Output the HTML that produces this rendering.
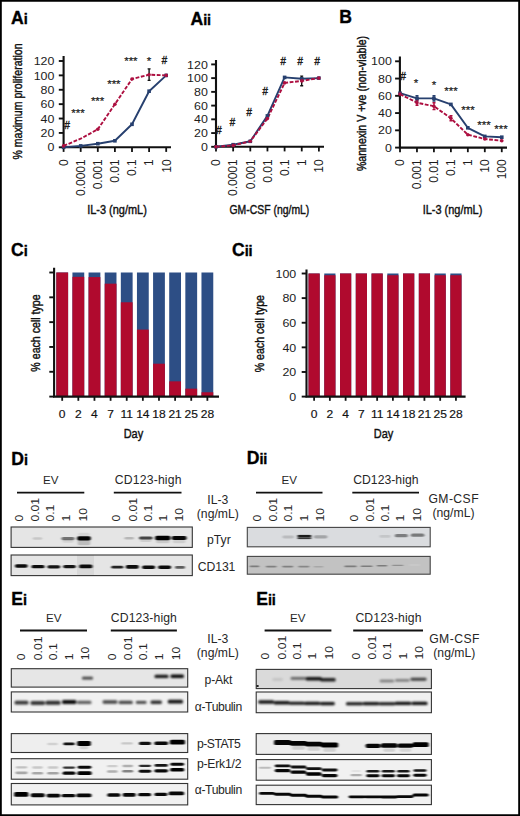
<!DOCTYPE html>
<html><head><meta charset="utf-8"><title>Figure</title>
<style>
html,body{margin:0;padding:0;background:#fff;}
body{width:520px;height:816px;overflow:hidden;font-family:"Liberation Sans",sans-serif;}
svg{display:block;font-family:"Liberation Sans",sans-serif;}
</style></head><body>
<svg width="520" height="816" viewBox="0 0 520 816">
<defs>
<filter id="b1" x="-20%" y="-80%" width="140%" height="260%"><feGaussianBlur stdDeviation="0.8 0.65"/></filter>
<filter id="b2" x="-20%" y="-80%" width="140%" height="260%"><feGaussianBlur stdDeviation="1.3 0.85"/></filter>
<linearGradient id="lg" x1="0" x2="1" y1="0" y2="0"><stop offset="0" stop-color="#c8c8c8"/><stop offset="1" stop-color="#e2e2e2"/></linearGradient>
</defs>
<rect x="0" y="0" width="520" height="816" fill="#fff"/>
<path d="M0 0H520V816H0Z M1.8 1.7V814.2H518.2V1.7Z" fill="#000" fill-rule="evenodd"/>

<text x="11" y="23.5" font-size="17.6" font-weight="bold" fill="#000" stroke="#000" stroke-width="0.35">A<tspan font-size="14.5" letter-spacing="-0.3">i</tspan></text>
<path d="M63.6 56 V147.3 H171" fill="none" stroke="#111" stroke-width="2.1"/>
<path d="M58.800000000000004 147.30 H63.6" stroke="#111" stroke-width="1.9"/>
<text transform="translate(54.4 151.45) scale(1.07 1)" font-size="11.6" text-anchor="end" font-weight="normal" fill="#1c1c1c" >0</text>
<path d="M58.800000000000004 132.92 H63.6" stroke="#111" stroke-width="1.9"/>
<text transform="translate(54.4 137.07) scale(1.07 1)" font-size="11.6" text-anchor="end" font-weight="normal" fill="#1c1c1c" >20</text>
<path d="M58.800000000000004 118.53 H63.6" stroke="#111" stroke-width="1.9"/>
<text transform="translate(54.4 122.68) scale(1.07 1)" font-size="11.6" text-anchor="end" font-weight="normal" fill="#1c1c1c" >40</text>
<path d="M58.800000000000004 104.15 H63.6" stroke="#111" stroke-width="1.9"/>
<text transform="translate(54.4 108.3) scale(1.07 1)" font-size="11.6" text-anchor="end" font-weight="normal" fill="#1c1c1c" >60</text>
<path d="M58.800000000000004 89.77 H63.6" stroke="#111" stroke-width="1.9"/>
<text transform="translate(54.4 93.92) scale(1.07 1)" font-size="11.6" text-anchor="end" font-weight="normal" fill="#1c1c1c" >80</text>
<path d="M58.800000000000004 75.38 H63.6" stroke="#111" stroke-width="1.9"/>
<text transform="translate(54.4 79.53) scale(1.07 1)" font-size="11.6" text-anchor="end" font-weight="normal" fill="#1c1c1c" >100</text>
<path d="M58.800000000000004 61.00 H63.6" stroke="#111" stroke-width="1.9"/>
<text transform="translate(54.4 65.15) scale(1.07 1)" font-size="11.6" text-anchor="end" font-weight="normal" fill="#1c1c1c" >120</text>
<path d="M63.60 147.3 V151.9" stroke="#111" stroke-width="1.8"/>
<path d="M80.70 147.3 V151.9" stroke="#111" stroke-width="1.8"/>
<path d="M97.80 147.3 V151.9" stroke="#111" stroke-width="1.8"/>
<path d="M114.90 147.3 V151.9" stroke="#111" stroke-width="1.8"/>
<path d="M132.00 147.3 V151.9" stroke="#111" stroke-width="1.8"/>
<path d="M149.10 147.3 V151.9" stroke="#111" stroke-width="1.8"/>
<path d="M166.20 147.3 V151.9" stroke="#111" stroke-width="1.8"/>
<text transform="translate(67.9 159.3) rotate(-90)" font-size="12" text-anchor="end" font-weight="normal" fill="#1c1c1c" >0</text>
<text transform="translate(85.0 159.3) rotate(-90)" font-size="12" text-anchor="end" font-weight="normal" fill="#1c1c1c" >0.0001</text>
<text transform="translate(102.1 159.3) rotate(-90)" font-size="12" text-anchor="end" font-weight="normal" fill="#1c1c1c" >0.001</text>
<text transform="translate(119.2 159.3) rotate(-90)" font-size="12" text-anchor="end" font-weight="normal" fill="#1c1c1c" >0.01</text>
<text transform="translate(136.3 159.3) rotate(-90)" font-size="12" text-anchor="end" font-weight="normal" fill="#1c1c1c" >0.1</text>
<text transform="translate(153.4 159.3) rotate(-90)" font-size="12" text-anchor="end" font-weight="normal" fill="#1c1c1c" >1</text>
<text transform="translate(170.5 159.3) rotate(-90)" font-size="12" text-anchor="end" font-weight="normal" fill="#1c1c1c" >10</text>
<polyline points="63.6,147.3 80.7,145.9 97.8,143.7 114.9,140.8 132.0,124.3 149.1,91.2 166.2,75.4" fill="none" stroke="#27406f" stroke-width="1.9" stroke-linejoin="round"/>
<polyline points="63.6,145.9 80.7,138.7 97.8,129.3 114.9,104.2 132.0,79.0 149.1,74.7 166.2,75.4" fill="none" stroke="#ad0f40" stroke-width="1.9" stroke-dasharray="3.8 1.6" stroke-linejoin="round"/>
<path d="M149.1 80.4 V68.9 M147.6 68.9 h3 M147.6 80.4 h3" stroke="#111" stroke-width="1.4"/>
<rect x="61.8" y="145.5" width="3.6" height="3.6" fill="#27406f"/>
<rect x="78.9" y="144.1" width="3.6" height="3.6" fill="#27406f"/>
<rect x="96.0" y="141.9" width="3.6" height="3.6" fill="#27406f"/>
<rect x="113.1" y="139.0" width="3.6" height="3.6" fill="#27406f"/>
<rect x="130.2" y="122.5" width="3.6" height="3.6" fill="#27406f"/>
<rect x="147.3" y="89.4" width="3.6" height="3.6" fill="#27406f"/>
<rect x="164.4" y="73.6" width="3.6" height="3.6" fill="#27406f"/>
<circle cx="63.6" cy="145.9" r="1.8" fill="#ad0f40"/>
<circle cx="97.8" cy="129.3" r="1.8" fill="#ad0f40"/>
<circle cx="114.9" cy="104.2" r="1.8" fill="#ad0f40"/>
<circle cx="132.0" cy="79.0" r="1.8" fill="#ad0f40"/>
<circle cx="149.1" cy="74.7" r="1.8" fill="#ad0f40"/>
<circle cx="166.2" cy="75.4" r="1.8" fill="#ad0f40"/>
<text x="67" y="128.6" font-size="10" text-anchor="middle" font-weight="normal" fill="#1a1a1a" font-style="italic" stroke="#1a1a1a" stroke-width="0.35">#</text>
<text x="78" y="116.8" font-size="11.5" text-anchor="middle" font-weight="normal" fill="#1a1a1a" stroke="#1a1a1a" stroke-width="0.2">***</text>
<text x="97.6" y="105.1" font-size="11.5" text-anchor="middle" font-weight="normal" fill="#1a1a1a" stroke="#1a1a1a" stroke-width="0.2">***</text>
<text x="113.9" y="87.8" font-size="11.5" text-anchor="middle" font-weight="normal" fill="#1a1a1a" stroke="#1a1a1a" stroke-width="0.2">***</text>
<text x="130.9" y="65.3" font-size="11.5" text-anchor="middle" font-weight="normal" fill="#1a1a1a" stroke="#1a1a1a" stroke-width="0.2">***</text>
<text x="148.9" y="65.3" font-size="11.5" text-anchor="middle" font-weight="normal" fill="#1a1a1a" stroke="#1a1a1a" stroke-width="0.2">*</text>
<text x="164.2" y="63.9" font-size="10" text-anchor="middle" font-weight="normal" fill="#1a1a1a" font-style="italic" stroke="#1a1a1a" stroke-width="0.35">#</text>
<text transform="translate(21.9 101.5) rotate(-90) scale(0.845 1)" font-size="12.5" text-anchor="middle" font-weight="normal" fill="#111" stroke="#111" stroke-width="0.42">% maximum proliferation</text>
<text transform="translate(117 214) scale(0.85 1)" font-size="12.9" text-anchor="middle" font-weight="normal" fill="#111" stroke="#111" stroke-width="0.42">IL-3 (ng/mL)</text>
<text x="190.6" y="25.2" font-size="17.6" font-weight="bold" fill="#000" stroke="#000" stroke-width="0.35">A<tspan font-size="14.5" letter-spacing="-0.3">ii</tspan></text>
<path d="M216 60 V146.8 H324" fill="none" stroke="#111" stroke-width="2.1"/>
<path d="M211.2 146.80 H216" stroke="#111" stroke-width="1.9"/>
<text transform="translate(207.8 150.95) scale(1.07 1)" font-size="11.6" text-anchor="end" font-weight="normal" fill="#1c1c1c" >0</text>
<path d="M211.2 133.07 H216" stroke="#111" stroke-width="1.9"/>
<text transform="translate(207.8 137.22) scale(1.07 1)" font-size="11.6" text-anchor="end" font-weight="normal" fill="#1c1c1c" >20</text>
<path d="M211.2 119.33 H216" stroke="#111" stroke-width="1.9"/>
<text transform="translate(207.8 123.48) scale(1.07 1)" font-size="11.6" text-anchor="end" font-weight="normal" fill="#1c1c1c" >40</text>
<path d="M211.2 105.60 H216" stroke="#111" stroke-width="1.9"/>
<text transform="translate(207.8 109.75) scale(1.07 1)" font-size="11.6" text-anchor="end" font-weight="normal" fill="#1c1c1c" >60</text>
<path d="M211.2 91.87 H216" stroke="#111" stroke-width="1.9"/>
<text transform="translate(207.8 96.02) scale(1.07 1)" font-size="11.6" text-anchor="end" font-weight="normal" fill="#1c1c1c" >80</text>
<path d="M211.2 78.13 H216" stroke="#111" stroke-width="1.9"/>
<text transform="translate(207.8 82.28) scale(1.07 1)" font-size="11.6" text-anchor="end" font-weight="normal" fill="#1c1c1c" >100</text>
<path d="M211.2 64.40 H216" stroke="#111" stroke-width="1.9"/>
<text transform="translate(207.8 68.55) scale(1.07 1)" font-size="11.6" text-anchor="end" font-weight="normal" fill="#1c1c1c" >120</text>
<path d="M216.00 146.8 V151.4" stroke="#111" stroke-width="1.8"/>
<path d="M233.15 146.8 V151.4" stroke="#111" stroke-width="1.8"/>
<path d="M250.30 146.8 V151.4" stroke="#111" stroke-width="1.8"/>
<path d="M267.45 146.8 V151.4" stroke="#111" stroke-width="1.8"/>
<path d="M284.60 146.8 V151.4" stroke="#111" stroke-width="1.8"/>
<path d="M301.75 146.8 V151.4" stroke="#111" stroke-width="1.8"/>
<path d="M318.90 146.8 V151.4" stroke="#111" stroke-width="1.8"/>
<text transform="translate(220.3 159.3) rotate(-90)" font-size="12" text-anchor="end" font-weight="normal" fill="#1c1c1c" >0</text>
<text transform="translate(237.45 159.3) rotate(-90)" font-size="12" text-anchor="end" font-weight="normal" fill="#1c1c1c" >0.0001</text>
<text transform="translate(254.6 159.3) rotate(-90)" font-size="12" text-anchor="end" font-weight="normal" fill="#1c1c1c" >0.001</text>
<text transform="translate(271.75 159.3) rotate(-90)" font-size="12" text-anchor="end" font-weight="normal" fill="#1c1c1c" >0.01</text>
<text transform="translate(288.9 159.3) rotate(-90)" font-size="12" text-anchor="end" font-weight="normal" fill="#1c1c1c" >0.1</text>
<text transform="translate(306.05 159.3) rotate(-90)" font-size="12" text-anchor="end" font-weight="normal" fill="#1c1c1c" >1</text>
<text transform="translate(323.2 159.3) rotate(-90)" font-size="12" text-anchor="end" font-weight="normal" fill="#1c1c1c" >10</text>
<polyline points="216.0,146.8 233.2,144.7 250.3,141.3 267.4,115.9 284.6,77.4 301.8,78.8 318.9,78.1" fill="none" stroke="#27406f" stroke-width="1.9" stroke-linejoin="round"/>
<polyline points="216.0,146.8 233.2,145.4 250.3,141.3 267.4,118.6 284.6,82.9 301.8,80.9 318.9,78.1" fill="none" stroke="#ad0f40" stroke-width="1.9" stroke-dasharray="3.8 1.6" stroke-linejoin="round"/>
<path d="M301.7 85.7 V76.1 M300.2 76.1 h3 M300.2 85.7 h3" stroke="#111" stroke-width="1.4"/>
<rect x="214.2" y="145.0" width="3.6" height="3.6" fill="#27406f"/>
<rect x="231.3" y="142.9" width="3.6" height="3.6" fill="#27406f"/>
<rect x="248.5" y="139.5" width="3.6" height="3.6" fill="#27406f"/>
<rect x="265.6" y="114.1" width="3.6" height="3.6" fill="#27406f"/>
<rect x="282.8" y="75.6" width="3.6" height="3.6" fill="#27406f"/>
<rect x="299.9" y="77.0" width="3.6" height="3.6" fill="#27406f"/>
<rect x="317.1" y="76.3" width="3.6" height="3.6" fill="#27406f"/>
<circle cx="216.0" cy="146.8" r="1.8" fill="#ad0f40"/>
<circle cx="233.2" cy="145.4" r="1.8" fill="#ad0f40"/>
<circle cx="250.3" cy="141.3" r="1.8" fill="#ad0f40"/>
<circle cx="267.4" cy="118.6" r="1.8" fill="#ad0f40"/>
<circle cx="284.6" cy="82.9" r="1.8" fill="#ad0f40"/>
<circle cx="301.8" cy="80.9" r="1.8" fill="#ad0f40"/>
<circle cx="318.9" cy="78.1" r="1.8" fill="#ad0f40"/>
<text x="218.7" y="133.8" font-size="10" text-anchor="middle" font-weight="normal" fill="#1a1a1a" font-style="italic" stroke="#1a1a1a" stroke-width="0.35">#</text>
<text x="232.2" y="126.0" font-size="10" text-anchor="middle" font-weight="normal" fill="#1a1a1a" font-style="italic" stroke="#1a1a1a" stroke-width="0.35">#</text>
<text x="249" y="115.6" font-size="10" text-anchor="middle" font-weight="normal" fill="#1a1a1a" font-style="italic" stroke="#1a1a1a" stroke-width="0.35">#</text>
<text x="265" y="94.6" font-size="10" text-anchor="middle" font-weight="normal" fill="#1a1a1a" font-style="italic" stroke="#1a1a1a" stroke-width="0.35">#</text>
<text x="283" y="64.6" font-size="10" text-anchor="middle" font-weight="normal" fill="#1a1a1a" font-style="italic" stroke="#1a1a1a" stroke-width="0.35">#</text>
<text x="300" y="64.6" font-size="10" text-anchor="middle" font-weight="normal" fill="#1a1a1a" font-style="italic" stroke="#1a1a1a" stroke-width="0.35">#</text>
<text x="317" y="64.6" font-size="10" text-anchor="middle" font-weight="normal" fill="#1a1a1a" font-style="italic" stroke="#1a1a1a" stroke-width="0.35">#</text>
<text transform="translate(269.4 214) scale(0.808 1)" font-size="12.9" text-anchor="middle" font-weight="normal" fill="#111" stroke="#111" stroke-width="0.42">GM-CSF (ng/mL)</text>
<text x="339.3" y="23.3" font-size="17.6" font-weight="bold" fill="#000" stroke="#000" stroke-width="0.35">B<tspan font-size="14.5" letter-spacing="-0.3"></tspan></text>
<path d="M399.9 56.5 V147.6 H507" fill="none" stroke="#111" stroke-width="2.1"/>
<path d="M395.09999999999997 147.60 H399.9" stroke="#111" stroke-width="1.9"/>
<text transform="translate(391.8 151.75) scale(1.07 1)" font-size="11.6" text-anchor="end" font-weight="normal" fill="#1c1c1c" >0</text>
<path d="M395.09999999999997 130.34 H399.9" stroke="#111" stroke-width="1.9"/>
<text transform="translate(391.8 134.49) scale(1.07 1)" font-size="11.6" text-anchor="end" font-weight="normal" fill="#1c1c1c" >20</text>
<path d="M395.09999999999997 113.08 H399.9" stroke="#111" stroke-width="1.9"/>
<text transform="translate(391.8 117.23) scale(1.07 1)" font-size="11.6" text-anchor="end" font-weight="normal" fill="#1c1c1c" >40</text>
<path d="M395.09999999999997 95.82 H399.9" stroke="#111" stroke-width="1.9"/>
<text transform="translate(391.8 99.97) scale(1.07 1)" font-size="11.6" text-anchor="end" font-weight="normal" fill="#1c1c1c" >60</text>
<path d="M395.09999999999997 78.56 H399.9" stroke="#111" stroke-width="1.9"/>
<text transform="translate(391.8 82.71) scale(1.07 1)" font-size="11.6" text-anchor="end" font-weight="normal" fill="#1c1c1c" >80</text>
<path d="M395.09999999999997 61.30 H399.9" stroke="#111" stroke-width="1.9"/>
<text transform="translate(391.8 65.45) scale(1.07 1)" font-size="11.6" text-anchor="end" font-weight="normal" fill="#1c1c1c" >100</text>
<path d="M400.00 147.6 V152.2" stroke="#111" stroke-width="1.8"/>
<path d="M416.96 147.6 V152.2" stroke="#111" stroke-width="1.8"/>
<path d="M433.92 147.6 V152.2" stroke="#111" stroke-width="1.8"/>
<path d="M450.88 147.6 V152.2" stroke="#111" stroke-width="1.8"/>
<path d="M467.84 147.6 V152.2" stroke="#111" stroke-width="1.8"/>
<path d="M484.80 147.6 V152.2" stroke="#111" stroke-width="1.8"/>
<path d="M501.76 147.6 V152.2" stroke="#111" stroke-width="1.8"/>
<text transform="translate(404.3 159.3) rotate(-90)" font-size="12" text-anchor="end" font-weight="normal" fill="#1c1c1c" >0</text>
<text transform="translate(421.26 159.3) rotate(-90)" font-size="12" text-anchor="end" font-weight="normal" fill="#1c1c1c" >0.001</text>
<text transform="translate(438.22 159.3) rotate(-90)" font-size="12" text-anchor="end" font-weight="normal" fill="#1c1c1c" >0.01</text>
<text transform="translate(455.18 159.3) rotate(-90)" font-size="12" text-anchor="end" font-weight="normal" fill="#1c1c1c" >0.1</text>
<text transform="translate(472.14 159.3) rotate(-90)" font-size="12" text-anchor="end" font-weight="normal" fill="#1c1c1c" >1</text>
<text transform="translate(489.1 159.3) rotate(-90)" font-size="12" text-anchor="end" font-weight="normal" fill="#1c1c1c" >10</text>
<text transform="translate(506.06 159.3) rotate(-90)" font-size="12" text-anchor="end" font-weight="normal" fill="#1c1c1c" >100</text>
<polyline points="400.0,93.2 417.0,98.4 433.9,98.4 450.9,104.4 467.8,127.8 484.8,136.4 501.8,137.2" fill="none" stroke="#27406f" stroke-width="1.9" stroke-linejoin="round"/>
<polyline points="400.0,94.1 417.0,102.7 433.9,106.2 450.9,118.3 467.8,134.7 484.8,139.0 501.8,140.7" fill="none" stroke="#ad0f40" stroke-width="1.9" stroke-dasharray="3.8 1.6" stroke-linejoin="round"/>
<path d="M417 101.0 V95.8 M415.5 95.8 h3 M415.5 101.0 h3" stroke="#27406f" stroke-width="1.4"/>
<path d="M434 101.0 V95.8 M432.5 95.8 h3 M432.5 101.0 h3" stroke="#27406f" stroke-width="1.4"/>
<path d="M417 105.3 V100.1 M415.5 100.1 h3 M415.5 105.3 h3" stroke="#ad0f40" stroke-width="1.4"/>
<path d="M434 109.6 V102.7 M432.5 102.7 h3 M432.5 109.6 h3" stroke="#ad0f40" stroke-width="1.4"/>
<path d="M451 120.8 V115.7 M449.5 115.7 h3 M449.5 120.8 h3" stroke="#ad0f40" stroke-width="1.4"/>
<rect x="398.2" y="91.4" width="3.6" height="3.6" fill="#27406f"/>
<rect x="415.2" y="96.6" width="3.6" height="3.6" fill="#27406f"/>
<rect x="432.1" y="96.6" width="3.6" height="3.6" fill="#27406f"/>
<rect x="449.1" y="102.6" width="3.6" height="3.6" fill="#27406f"/>
<rect x="466.0" y="126.0" width="3.6" height="3.6" fill="#27406f"/>
<rect x="483.0" y="134.6" width="3.6" height="3.6" fill="#27406f"/>
<rect x="500.0" y="135.4" width="3.6" height="3.6" fill="#27406f"/>
<circle cx="400.0" cy="94.1" r="1.8" fill="#ad0f40"/>
<circle cx="417.0" cy="102.7" r="1.8" fill="#ad0f40"/>
<circle cx="433.9" cy="106.2" r="1.8" fill="#ad0f40"/>
<circle cx="450.9" cy="118.3" r="1.8" fill="#ad0f40"/>
<circle cx="467.8" cy="134.7" r="1.8" fill="#ad0f40"/>
<circle cx="484.8" cy="139.0" r="1.8" fill="#ad0f40"/>
<circle cx="501.8" cy="140.7" r="1.8" fill="#ad0f40"/>
<text x="403" y="79.6" font-size="10" text-anchor="middle" font-weight="normal" fill="#1a1a1a" font-style="italic" stroke="#1a1a1a" stroke-width="0.35">#</text>
<text x="416" y="87.3" font-size="11.5" text-anchor="middle" font-weight="normal" fill="#1a1a1a" stroke="#1a1a1a" stroke-width="0.2">*</text>
<text x="434" y="89.3" font-size="11.5" text-anchor="middle" font-weight="normal" fill="#1a1a1a" stroke="#1a1a1a" stroke-width="0.2">*</text>
<text x="451" y="94.8" font-size="11.5" text-anchor="middle" font-weight="normal" fill="#1a1a1a" stroke="#1a1a1a" stroke-width="0.2">***</text>
<text x="468" y="114.3" font-size="11.5" text-anchor="middle" font-weight="normal" fill="#1a1a1a" stroke="#1a1a1a" stroke-width="0.2">***</text>
<text x="484" y="129.3" font-size="11.5" text-anchor="middle" font-weight="normal" fill="#1a1a1a" stroke="#1a1a1a" stroke-width="0.2">***</text>
<text x="501" y="133.3" font-size="11.5" text-anchor="middle" font-weight="normal" fill="#1a1a1a" stroke="#1a1a1a" stroke-width="0.2">***</text>
<text transform="translate(365.6 103.5) rotate(-90) scale(0.845 1)" font-size="12.5" text-anchor="middle" font-weight="normal" fill="#111" stroke="#111" stroke-width="0.42">%annexin V +ve (non-viable)</text>
<text transform="translate(452.5 214) scale(0.85 1)" font-size="12.9" text-anchor="middle" font-weight="normal" fill="#111" stroke="#111" stroke-width="0.42">IL-3 (ng/mL)</text>
<text x="11" y="255.5" font-size="17.6" font-weight="bold" fill="#000" stroke="#000" stroke-width="0.35">C<tspan font-size="14.5" letter-spacing="-0.3">i</tspan></text>
<rect x="56.30" y="272.5" width="11.8" height="124.10" fill="#2d4e85"/>
<rect x="56.30" y="272.50" width="11.8" height="124.10" fill="#b00a2e"/>
<path d="M62.20 396.6 v4.2" stroke="#111" stroke-width="1.8"/>
<text transform="translate(62.2 417.5) scale(1.16 1)" font-size="10.4" text-anchor="middle" font-weight="normal" fill="#111" stroke="#111" stroke-width="0.15">0</text>
<rect x="72.43" y="272.5" width="11.8" height="124.10" fill="#2d4e85"/>
<rect x="72.43" y="276.84" width="11.8" height="119.76" fill="#b00a2e"/>
<path d="M78.33 396.6 v4.2" stroke="#111" stroke-width="1.8"/>
<text transform="translate(78.33 417.5) scale(1.16 1)" font-size="10.4" text-anchor="middle" font-weight="normal" fill="#111" stroke="#111" stroke-width="0.15">2</text>
<rect x="88.56" y="272.5" width="11.8" height="124.10" fill="#2d4e85"/>
<rect x="88.56" y="277.09" width="11.8" height="119.51" fill="#b00a2e"/>
<path d="M94.46 396.6 v4.2" stroke="#111" stroke-width="1.8"/>
<text transform="translate(94.46 417.5) scale(1.16 1)" font-size="10.4" text-anchor="middle" font-weight="normal" fill="#111" stroke="#111" stroke-width="0.15">4</text>
<rect x="104.69" y="272.5" width="11.8" height="124.10" fill="#2d4e85"/>
<rect x="104.69" y="283.67" width="11.8" height="112.93" fill="#b00a2e"/>
<path d="M110.59 396.6 v4.2" stroke="#111" stroke-width="1.8"/>
<text transform="translate(110.59 417.5) scale(1.16 1)" font-size="10.4" text-anchor="middle" font-weight="normal" fill="#111" stroke="#111" stroke-width="0.15">7</text>
<rect x="120.82" y="272.5" width="11.8" height="124.10" fill="#2d4e85"/>
<rect x="120.82" y="302.28" width="11.8" height="94.32" fill="#b00a2e"/>
<path d="M126.72 396.6 v4.2" stroke="#111" stroke-width="1.8"/>
<text transform="translate(126.72 417.5) scale(1.16 1)" font-size="10.4" text-anchor="middle" font-weight="normal" fill="#111" stroke="#111" stroke-width="0.15">11</text>
<rect x="136.95" y="272.5" width="11.8" height="124.10" fill="#2d4e85"/>
<rect x="136.95" y="329.59" width="11.8" height="67.01" fill="#b00a2e"/>
<path d="M142.85 396.6 v4.2" stroke="#111" stroke-width="1.8"/>
<text transform="translate(142.85 417.5) scale(1.16 1)" font-size="10.4" text-anchor="middle" font-weight="normal" fill="#111" stroke="#111" stroke-width="0.15">14</text>
<rect x="153.08" y="272.5" width="11.8" height="124.10" fill="#2d4e85"/>
<rect x="153.08" y="363.71" width="11.8" height="32.89" fill="#b00a2e"/>
<path d="M158.98 396.6 v4.2" stroke="#111" stroke-width="1.8"/>
<text transform="translate(158.98 417.5) scale(1.16 1)" font-size="10.4" text-anchor="middle" font-weight="normal" fill="#111" stroke="#111" stroke-width="0.15">18</text>
<rect x="169.21" y="272.5" width="11.8" height="124.10" fill="#2d4e85"/>
<rect x="169.21" y="381.34" width="11.8" height="15.26" fill="#b00a2e"/>
<path d="M175.11 396.6 v4.2" stroke="#111" stroke-width="1.8"/>
<text transform="translate(175.11 417.5) scale(1.16 1)" font-size="10.4" text-anchor="middle" font-weight="normal" fill="#111" stroke="#111" stroke-width="0.15">21</text>
<rect x="185.34" y="272.5" width="11.8" height="124.10" fill="#2d4e85"/>
<rect x="185.34" y="388.66" width="11.8" height="7.94" fill="#b00a2e"/>
<path d="M191.24 396.6 v4.2" stroke="#111" stroke-width="1.8"/>
<text transform="translate(191.24 417.5) scale(1.16 1)" font-size="10.4" text-anchor="middle" font-weight="normal" fill="#111" stroke="#111" stroke-width="0.15">25</text>
<rect x="201.47" y="272.5" width="11.8" height="124.10" fill="#2d4e85"/>
<rect x="201.47" y="392.26" width="11.8" height="4.34" fill="#b00a2e"/>
<path d="M207.37 396.6 v4.2" stroke="#111" stroke-width="1.8"/>
<text transform="translate(207.37 417.5) scale(1.16 1)" font-size="10.4" text-anchor="middle" font-weight="normal" fill="#111" stroke="#111" stroke-width="0.15">28</text>
<path d="M54.1 267.8 V396.6 H219" fill="none" stroke="#111" stroke-width="2.1"/>
<path d="M49.300000000000004 396.60 H54.1" stroke="#111" stroke-width="1.9"/>
<path d="M49.300000000000004 371.78 H54.1" stroke="#111" stroke-width="1.9"/>
<path d="M49.300000000000004 346.96 H54.1" stroke="#111" stroke-width="1.9"/>
<path d="M49.300000000000004 322.14 H54.1" stroke="#111" stroke-width="1.9"/>
<path d="M49.300000000000004 297.32 H54.1" stroke="#111" stroke-width="1.9"/>
<path d="M49.300000000000004 272.50 H54.1" stroke="#111" stroke-width="1.9"/>
<text transform="translate(39.6 333) rotate(-90) scale(0.85 1)" font-size="12.5" text-anchor="middle" font-weight="normal" fill="#111" stroke="#111" stroke-width="0.42">% each cell type</text>
<text transform="translate(133.4 437.5) scale(0.85 1)" font-size="12.9" text-anchor="middle" font-weight="normal" fill="#111" stroke="#111" stroke-width="0.42">Day</text>
<text x="232" y="255.5" font-size="17.6" font-weight="bold" fill="#000" stroke="#000" stroke-width="0.35">C<tspan font-size="14.5" letter-spacing="-0.3">ii</tspan></text>
<rect x="308.50" y="273.5" width="11.2" height="123.10" fill="#2d4e85"/>
<rect x="308.50" y="273.50" width="11.2" height="123.10" fill="#b00a2e"/>
<path d="M314.10 396.6 v4.2" stroke="#111" stroke-width="1.8"/>
<text transform="translate(314.1 417.5) scale(1.16 1)" font-size="10.4" text-anchor="middle" font-weight="normal" fill="#111" stroke="#111" stroke-width="0.15">0</text>
<rect x="324.26" y="273.5" width="11.2" height="123.10" fill="#2d4e85"/>
<rect x="324.26" y="275.22" width="11.2" height="121.38" fill="#b00a2e"/>
<path d="M329.86 396.6 v4.2" stroke="#111" stroke-width="1.8"/>
<text transform="translate(329.86 417.5) scale(1.16 1)" font-size="10.4" text-anchor="middle" font-weight="normal" fill="#111" stroke="#111" stroke-width="0.15">2</text>
<rect x="340.02" y="273.5" width="11.2" height="123.10" fill="#2d4e85"/>
<rect x="340.02" y="273.50" width="11.2" height="123.10" fill="#b00a2e"/>
<path d="M345.62 396.6 v4.2" stroke="#111" stroke-width="1.8"/>
<text transform="translate(345.62 417.5) scale(1.16 1)" font-size="10.4" text-anchor="middle" font-weight="normal" fill="#111" stroke="#111" stroke-width="0.15">4</text>
<rect x="355.78" y="273.5" width="11.2" height="123.10" fill="#2d4e85"/>
<rect x="355.78" y="273.50" width="11.2" height="123.10" fill="#b00a2e"/>
<path d="M361.38 396.6 v4.2" stroke="#111" stroke-width="1.8"/>
<text transform="translate(361.38 417.5) scale(1.16 1)" font-size="10.4" text-anchor="middle" font-weight="normal" fill="#111" stroke="#111" stroke-width="0.15">7</text>
<rect x="371.54" y="273.5" width="11.2" height="123.10" fill="#2d4e85"/>
<rect x="371.54" y="273.50" width="11.2" height="123.10" fill="#b00a2e"/>
<path d="M377.14 396.6 v4.2" stroke="#111" stroke-width="1.8"/>
<text transform="translate(377.14 417.5) scale(1.16 1)" font-size="10.4" text-anchor="middle" font-weight="normal" fill="#111" stroke="#111" stroke-width="0.15">11</text>
<rect x="387.30" y="273.5" width="11.2" height="123.10" fill="#2d4e85"/>
<rect x="387.30" y="275.22" width="11.2" height="121.38" fill="#b00a2e"/>
<path d="M392.90 396.6 v4.2" stroke="#111" stroke-width="1.8"/>
<text transform="translate(392.9 417.5) scale(1.16 1)" font-size="10.4" text-anchor="middle" font-weight="normal" fill="#111" stroke="#111" stroke-width="0.15">14</text>
<rect x="403.06" y="273.5" width="11.2" height="123.10" fill="#2d4e85"/>
<rect x="403.06" y="273.50" width="11.2" height="123.10" fill="#b00a2e"/>
<path d="M408.66 396.6 v4.2" stroke="#111" stroke-width="1.8"/>
<text transform="translate(408.66 417.5) scale(1.16 1)" font-size="10.4" text-anchor="middle" font-weight="normal" fill="#111" stroke="#111" stroke-width="0.15">18</text>
<rect x="418.82" y="273.5" width="11.2" height="123.10" fill="#2d4e85"/>
<rect x="418.82" y="273.50" width="11.2" height="123.10" fill="#b00a2e"/>
<path d="M424.42 396.6 v4.2" stroke="#111" stroke-width="1.8"/>
<text transform="translate(424.42 417.5) scale(1.16 1)" font-size="10.4" text-anchor="middle" font-weight="normal" fill="#111" stroke="#111" stroke-width="0.15">21</text>
<rect x="434.58" y="273.5" width="11.2" height="123.10" fill="#2d4e85"/>
<rect x="434.58" y="275.22" width="11.2" height="121.38" fill="#b00a2e"/>
<path d="M440.18 396.6 v4.2" stroke="#111" stroke-width="1.8"/>
<text transform="translate(440.18 417.5) scale(1.16 1)" font-size="10.4" text-anchor="middle" font-weight="normal" fill="#111" stroke="#111" stroke-width="0.15">25</text>
<rect x="450.34" y="273.5" width="11.2" height="123.10" fill="#2d4e85"/>
<rect x="450.34" y="275.22" width="11.2" height="121.38" fill="#b00a2e"/>
<path d="M455.94 396.6 v4.2" stroke="#111" stroke-width="1.8"/>
<text transform="translate(455.94 417.5) scale(1.16 1)" font-size="10.4" text-anchor="middle" font-weight="normal" fill="#111" stroke="#111" stroke-width="0.15">28</text>
<path d="M306.5 269.4 V396.6 H465.6" fill="none" stroke="#111" stroke-width="2.1"/>
<path d="M301.7 396.60 H306.5" stroke="#111" stroke-width="1.9"/>
<text transform="translate(296.2 400.75) scale(1.07 1)" font-size="11.6" text-anchor="end" font-weight="normal" fill="#1c1c1c" >0</text>
<path d="M301.7 371.98 H306.5" stroke="#111" stroke-width="1.9"/>
<text transform="translate(296.2 376.13) scale(1.07 1)" font-size="11.6" text-anchor="end" font-weight="normal" fill="#1c1c1c" >20</text>
<path d="M301.7 347.36 H306.5" stroke="#111" stroke-width="1.9"/>
<text transform="translate(296.2 351.51) scale(1.07 1)" font-size="11.6" text-anchor="end" font-weight="normal" fill="#1c1c1c" >40</text>
<path d="M301.7 322.74 H306.5" stroke="#111" stroke-width="1.9"/>
<text transform="translate(296.2 326.89) scale(1.07 1)" font-size="11.6" text-anchor="end" font-weight="normal" fill="#1c1c1c" >60</text>
<path d="M301.7 298.12 H306.5" stroke="#111" stroke-width="1.9"/>
<text transform="translate(296.2 302.27) scale(1.07 1)" font-size="11.6" text-anchor="end" font-weight="normal" fill="#1c1c1c" >80</text>
<path d="M301.7 273.50 H306.5" stroke="#111" stroke-width="1.9"/>
<text transform="translate(296.2 277.65) scale(1.07 1)" font-size="11.6" text-anchor="end" font-weight="normal" fill="#1c1c1c" >100</text>
<text transform="translate(264.4 333.7) rotate(-90) scale(0.85 1)" font-size="12.5" text-anchor="middle" font-weight="normal" fill="#111" stroke="#111" stroke-width="0.42">% each cell type</text>
<text transform="translate(383.6 437.5) scale(0.85 1)" font-size="12.9" text-anchor="middle" font-weight="normal" fill="#111" stroke="#111" stroke-width="0.42">Day</text>
<text x="11.3" y="464.5" font-size="17.6" font-weight="bold" fill="#000" stroke="#000" stroke-width="0.35">D<tspan font-size="14.5" letter-spacing="-0.3">i</tspan></text>
<text x="50.75" y="484.4" font-size="11.6" text-anchor="middle" font-weight="normal" fill="#262626" >EV</text>
<path d="M17 492.6 H84.3" stroke="#111" stroke-width="1.9"/>
<text x="148.15" y="484.4" font-size="12.2" text-anchor="middle" font-weight="normal" fill="#262626"  textLength="66.7" lengthAdjust="spacing">CD123-high</text>
<path d="M113.8 492.6 H181.5" stroke="#111" stroke-width="1.9"/>
<text transform="translate(22.85 521.6) rotate(-90) scale(1.05 1)" font-size="11.6" text-anchor="start" font-weight="normal" fill="#262626" >0</text>
<text transform="translate(39.1 521.6) rotate(-90) scale(1.05 1)" font-size="11.6" text-anchor="start" font-weight="normal" fill="#262626" >0.01</text>
<text transform="translate(54.1 521.6) rotate(-90) scale(1.05 1)" font-size="11.6" text-anchor="start" font-weight="normal" fill="#262626" >0.1</text>
<text transform="translate(69.6 521.6) rotate(-90) scale(1.05 1)" font-size="11.6" text-anchor="start" font-weight="normal" fill="#262626" >1</text>
<text transform="translate(86.6 521.6) rotate(-90) scale(1.05 1)" font-size="11.6" text-anchor="start" font-weight="normal" fill="#262626" >10</text>
<text transform="translate(120.1 521.6) rotate(-90) scale(1.05 1)" font-size="11.6" text-anchor="start" font-weight="normal" fill="#262626" >0</text>
<text transform="translate(137.1 521.6) rotate(-90) scale(1.05 1)" font-size="11.6" text-anchor="start" font-weight="normal" fill="#262626" >0.01</text>
<text transform="translate(151.8 521.6) rotate(-90) scale(1.05 1)" font-size="11.6" text-anchor="start" font-weight="normal" fill="#262626" >0.1</text>
<text transform="translate(167.1 521.6) rotate(-90) scale(1.05 1)" font-size="11.6" text-anchor="start" font-weight="normal" fill="#262626" >1</text>
<text transform="translate(182.6 521.6) rotate(-90) scale(1.05 1)" font-size="11.6" text-anchor="start" font-weight="normal" fill="#262626" >10</text>
<text x="217.8" y="504" font-size="12.2" text-anchor="middle" font-weight="normal" fill="#262626" >IL-3</text>
<text x="217.8" y="518" font-size="12.2" text-anchor="middle" font-weight="normal" fill="#262626" >(ng/mL)</text>
<clipPath id="c1"><rect x="11.1" y="527" width="181.20" height="20.40"/></clipPath>
<rect x="11.1" y="527" width="181.20" height="20.40" fill="#e5e5e5"/>
<g clip-path="url(#c1)"><g filter="url(#b1)">
<rect x="32.77" y="537.34" width="9.45" height="2.53" rx="1.26" fill="#000" fill-opacity="0.13"/>
<rect x="61.44" y="536.99" width="13.12" height="3.22" rx="1.60" fill="#000" fill-opacity="0.5"/>
<rect x="62.23" y="539.27" width="11.55" height="3.45" rx="1.60" fill="#000" fill-opacity="0.08"/>
<rect x="77.17" y="536.33" width="13.65" height="4.14" rx="1.60" fill="#000" fill-opacity="1.0"/>
<rect x="77.70" y="539.62" width="12.60" height="5.75" rx="1.60" fill="#000" fill-opacity="0.18"/>
<rect x="78.22" y="532.77" width="11.55" height="3.45" rx="1.60" fill="#000" fill-opacity="0.08"/>
<rect x="124.47" y="536.94" width="9.45" height="2.53" rx="1.26" fill="#000" fill-opacity="0.2"/>
<rect x="138.98" y="536.39" width="13.65" height="3.22" rx="1.60" fill="#000" fill-opacity="0.7"/>
<rect x="140.03" y="539.06" width="11.55" height="2.88" rx="1.44" fill="#000" fill-opacity="0.1"/>
<rect x="155.14" y="535.82" width="15.33" height="4.37" rx="1.60" fill="#000" fill-opacity="1.0"/>
<rect x="155.98" y="539.77" width="13.65" height="3.45" rx="1.60" fill="#000" fill-opacity="0.12"/>
<rect x="171.85" y="536.04" width="14.70" height="3.91" rx="1.60" fill="#000" fill-opacity="0.97"/>
<rect x="172.90" y="539.77" width="12.60" height="3.45" rx="1.60" fill="#000" fill-opacity="0.1"/>
</g></g>
<rect x="11.1" y="527" width="181.20" height="20.40" fill="none" stroke="#333" stroke-width="1.1"/>
<clipPath id="c2"><rect x="11.1" y="555" width="181.20" height="20.60"/></clipPath>
<rect x="11.1" y="555" width="181.20" height="20.60" fill="#e5e5e5"/>
<g clip-path="url(#c2)"><rect x="77" y="555" width="17" height="21" fill="#d8d8d8"/><g filter="url(#b1)">
<rect x="15.00" y="564.27" width="12.60" height="3.45" rx="1.60" fill="#000" fill-opacity="0.95"/>
<rect x="31.49" y="564.88" width="13.02" height="3.45" rx="1.60" fill="#000" fill-opacity="0.95"/>
<rect x="47.39" y="565.19" width="12.81" height="3.22" rx="1.60" fill="#000" fill-opacity="0.92"/>
<rect x="63.20" y="564.99" width="12.60" height="3.22" rx="1.60" fill="#000" fill-opacity="0.92"/>
<rect x="79.19" y="564.44" width="13.23" height="3.91" rx="1.60" fill="#000" fill-opacity="0.95"/>
<rect x="111.31" y="565.82" width="11.97" height="2.76" rx="1.38" fill="#000" fill-opacity="0.85"/>
<rect x="125.84" y="564.96" width="12.92" height="3.68" rx="1.60" fill="#000" fill-opacity="0.95"/>
<rect x="142.14" y="565.48" width="12.92" height="3.45" rx="1.60" fill="#000" fill-opacity="0.95"/>
<rect x="158.14" y="565.48" width="12.92" height="3.45" rx="1.60" fill="#000" fill-opacity="0.95"/>
<rect x="175.06" y="566.02" width="9.87" height="2.76" rx="1.38" fill="#000" fill-opacity="0.6"/>
</g></g>
<rect x="11.1" y="555" width="181.20" height="20.60" fill="none" stroke="#333" stroke-width="1.1"/>
<text x="207" y="543.5" font-size="12.2" text-anchor="start" font-weight="normal" fill="#262626" >pTyr</text>
<text x="197.8" y="571.2" font-size="12.2" text-anchor="start" font-weight="normal" fill="#262626"  textLength="37.6" lengthAdjust="spacing">CD131</text>
<text x="246.8" y="464.3" font-size="17.6" font-weight="bold" fill="#000" stroke="#000" stroke-width="0.35">D<tspan font-size="14.5" letter-spacing="-0.3">ii</tspan></text>
<text x="289.2" y="484.4" font-size="11.6" text-anchor="middle" font-weight="normal" fill="#262626" >EV</text>
<path d="M256 492.6 H322.5" stroke="#111" stroke-width="1.9"/>
<text x="385.85" y="484.4" font-size="12.2" text-anchor="middle" font-weight="normal" fill="#262626"  textLength="65.3" lengthAdjust="spacing">CD123-high</text>
<path d="M352.3 492.6 H419" stroke="#111" stroke-width="1.9"/>
<text transform="translate(261.1 521.6) rotate(-90) scale(1.05 1)" font-size="11.6" text-anchor="start" font-weight="normal" fill="#262626" >0</text>
<text transform="translate(277.3 521.6) rotate(-90) scale(1.05 1)" font-size="11.6" text-anchor="start" font-weight="normal" fill="#262626" >0.01</text>
<text transform="translate(292.4 521.6) rotate(-90) scale(1.05 1)" font-size="11.6" text-anchor="start" font-weight="normal" fill="#262626" >0.1</text>
<text transform="translate(308.1 521.6) rotate(-90) scale(1.05 1)" font-size="11.6" text-anchor="start" font-weight="normal" fill="#262626" >1</text>
<text transform="translate(323.5 521.6) rotate(-90) scale(1.05 1)" font-size="11.6" text-anchor="start" font-weight="normal" fill="#262626" >10</text>
<text transform="translate(357.9 521.6) rotate(-90) scale(1.05 1)" font-size="11.6" text-anchor="start" font-weight="normal" fill="#262626" >0</text>
<text transform="translate(374.3 521.6) rotate(-90) scale(1.05 1)" font-size="11.6" text-anchor="start" font-weight="normal" fill="#262626" >0.01</text>
<text transform="translate(389.3 521.6) rotate(-90) scale(1.05 1)" font-size="11.6" text-anchor="start" font-weight="normal" fill="#262626" >0.1</text>
<text transform="translate(404.1 521.6) rotate(-90) scale(1.05 1)" font-size="11.6" text-anchor="start" font-weight="normal" fill="#262626" >1</text>
<text transform="translate(421.1 521.6) rotate(-90) scale(1.05 1)" font-size="11.6" text-anchor="start" font-weight="normal" fill="#262626" >10</text>
<text x="453.5" y="502.8" font-size="12.2" text-anchor="middle" font-weight="normal" fill="#262626"  textLength="50.2" lengthAdjust="spacing">GM-CSF</text>
<text x="453.5" y="516.6" font-size="12.2" text-anchor="middle" font-weight="normal" fill="#262626" >(ng/mL)</text>
<clipPath id="c3"><rect x="247.3" y="527.4" width="182.90" height="19.40"/></clipPath>
<rect x="247.3" y="527.4" width="182.90" height="19.40" fill="#dadcdf"/>
<g clip-path="url(#c3)"><g filter="url(#b1)">
<rect x="282.43" y="535.40" width="11.55" height="2.99" rx="1.49" fill="#000" fill-opacity="0.15"/>
<rect x="297.47" y="535.02" width="13.86" height="1.95" rx="0.98" fill="#000" fill-opacity="0.85"/>
<rect x="297.47" y="537.24" width="13.86" height="1.72" rx="0.86" fill="#000" fill-opacity="0.7"/>
<rect x="297.05" y="534.47" width="14.70" height="5.06" rx="1.60" fill="#000" fill-opacity="0.18"/>
<rect x="313.78" y="535.19" width="13.65" height="3.22" rx="1.60" fill="#000" fill-opacity="0.25"/>
<rect x="379.49" y="535.02" width="11.03" height="2.76" rx="1.38" fill="#000" fill-opacity="0.1"/>
<rect x="394.79" y="533.93" width="13.02" height="3.33" rx="1.60" fill="#000" fill-opacity="0.43"/>
<rect x="410.88" y="533.59" width="13.44" height="3.22" rx="1.60" fill="#000" fill-opacity="0.45"/>
</g></g>
<rect x="247.3" y="527.4" width="182.90" height="19.40" fill="none" stroke="#444" stroke-width="1.1"/>
<clipPath id="c4"><rect x="247.3" y="556.4" width="182.90" height="17.80"/></clipPath>
<rect x="247.3" y="556.4" width="182.90" height="17.80" fill="#c2c2c2"/>
<g clip-path="url(#c4)"><g filter="url(#b1)">
<rect x="249.67" y="565.60" width="9.66" height="1.60" rx="0.80" fill="#000" fill-opacity="0.36"/>
<rect x="265.79" y="565.80" width="10.82" height="1.60" rx="0.80" fill="#000" fill-opacity="0.34"/>
<rect x="282.19" y="565.80" width="11.03" height="1.60" rx="0.80" fill="#000" fill-opacity="0.34"/>
<rect x="298.18" y="565.80" width="11.23" height="1.60" rx="0.80" fill="#000" fill-opacity="0.3"/>
<rect x="313.67" y="566.10" width="9.66" height="1.40" rx="0.70" fill="#000" fill-opacity="0.14"/>
<rect x="344.36" y="565.60" width="12.29" height="1.60" rx="0.80" fill="#000" fill-opacity="0.36"/>
<rect x="360.67" y="565.40" width="11.87" height="1.60" rx="0.80" fill="#000" fill-opacity="0.36"/>
<rect x="376.75" y="565.00" width="10.50" height="1.60" rx="0.80" fill="#000" fill-opacity="0.36"/>
<rect x="392.08" y="564.70" width="11.23" height="1.40" rx="0.70" fill="#000" fill-opacity="0.26"/>
<rect x="408.98" y="564.30" width="11.23" height="1.40" rx="0.70" fill="#fff" fill-opacity="0.12"/>
</g></g>
<rect x="247.3" y="556.4" width="182.90" height="17.80" fill="none" stroke="#444" stroke-width="1.1"/>
<text x="11.3" y="604.5" font-size="17.6" font-weight="bold" fill="#000" stroke="#000" stroke-width="0.35">E<tspan font-size="14.5" letter-spacing="-0.3">i</tspan></text>
<text x="53.75" y="621.6" font-size="11.6" text-anchor="middle" font-weight="normal" fill="#262626" >EV</text>
<path d="M20 630.5 H87" stroke="#111" stroke-width="1.9"/>
<text x="143.85" y="621.6" font-size="12.2" text-anchor="middle" font-weight="normal" fill="#262626"  textLength="66.1" lengthAdjust="spacing">CD123-high</text>
<path d="M110.8 630.5 H176.9" stroke="#111" stroke-width="1.9"/>
<text transform="translate(25.35 660.2) rotate(-90) scale(1.05 1)" font-size="11.6" text-anchor="start" font-weight="normal" fill="#262626" >0</text>
<text transform="translate(41.6 660.2) rotate(-90) scale(1.05 1)" font-size="11.6" text-anchor="start" font-weight="normal" fill="#262626" >0.01</text>
<text transform="translate(57.35 660.2) rotate(-90) scale(1.05 1)" font-size="11.6" text-anchor="start" font-weight="normal" fill="#262626" >0.1</text>
<text transform="translate(72.85 660.2) rotate(-90) scale(1.05 1)" font-size="11.6" text-anchor="start" font-weight="normal" fill="#262626" >1</text>
<text transform="translate(89.1 660.2) rotate(-90) scale(1.05 1)" font-size="11.6" text-anchor="start" font-weight="normal" fill="#262626" >10</text>
<text transform="translate(115.8 660.2) rotate(-90) scale(1.05 1)" font-size="11.6" text-anchor="start" font-weight="normal" fill="#262626" >0</text>
<text transform="translate(132.4 660.2) rotate(-90) scale(1.05 1)" font-size="11.6" text-anchor="start" font-weight="normal" fill="#262626" >0.01</text>
<text transform="translate(147.1 660.2) rotate(-90) scale(1.05 1)" font-size="11.6" text-anchor="start" font-weight="normal" fill="#262626" >0.1</text>
<text transform="translate(163.1 660.2) rotate(-90) scale(1.05 1)" font-size="11.6" text-anchor="start" font-weight="normal" fill="#262626" >1</text>
<text transform="translate(179.5 660.2) rotate(-90) scale(1.05 1)" font-size="11.6" text-anchor="start" font-weight="normal" fill="#262626" >10</text>
<text x="217.8" y="642.8" font-size="12.2" text-anchor="middle" font-weight="normal" fill="#262626" >IL-3</text>
<text x="217.8" y="656.6" font-size="12.2" text-anchor="middle" font-weight="normal" fill="#262626" >(ng/mL)</text>
<clipPath id="c5"><rect x="11.3" y="668.7" width="176.40" height="18.40"/></clipPath>
<rect x="11.3" y="668.7" width="176.40" height="18.40" fill="#e6e6e6"/>
<g clip-path="url(#c5)"><g filter="url(#b2)">
<rect x="81.99" y="676.86" width="11.03" height="2.69" rx="1.34" fill="#000" fill-opacity="0.72"/>
<rect x="154.41" y="674.83" width="14.18" height="3.14" rx="1.57" fill="#000" fill-opacity="0.92"/>
<rect x="170.38" y="674.52" width="13.65" height="3.36" rx="1.60" fill="#000" fill-opacity="0.97"/>
</g></g>
<rect x="11.3" y="668.7" width="176.40" height="18.40" fill="none" stroke="#333" stroke-width="1.1"/>
<clipPath id="c6"><rect x="11.3" y="691.9" width="176.40" height="20.10"/></clipPath>
<rect x="11.3" y="691.9" width="176.40" height="20.10" fill="#f1f1f1"/>
<g clip-path="url(#c6)"><g filter="url(#b2)">
<rect x="14.48" y="700.65" width="14.04" height="3.90" rx="1.60" fill="#000" fill-opacity="0.78"/>
<rect x="30.46" y="701.05" width="14.58" height="3.90" rx="1.60" fill="#000" fill-opacity="0.78"/>
<rect x="45.44" y="700.85" width="15.12" height="3.90" rx="1.60" fill="#000" fill-opacity="0.82"/>
<rect x="61.96" y="700.05" width="14.58" height="3.90" rx="1.60" fill="#000" fill-opacity="0.97"/>
<rect x="76.96" y="700.71" width="14.58" height="3.38" rx="1.60" fill="#000" fill-opacity="0.62"/>
<rect x="102.44" y="700.31" width="15.12" height="3.38" rx="1.60" fill="#000" fill-opacity="0.72"/>
<rect x="118.52" y="700.71" width="14.36" height="3.38" rx="1.60" fill="#000" fill-opacity="0.72"/>
<rect x="135.80" y="700.97" width="10.80" height="2.86" rx="1.43" fill="#000" fill-opacity="0.75"/>
<rect x="150.42" y="700.51" width="11.56" height="3.38" rx="1.60" fill="#000" fill-opacity="0.82"/>
<rect x="167.73" y="699.65" width="15.34" height="3.90" rx="1.60" fill="#000" fill-opacity="0.92"/>
</g></g>
<rect x="11.3" y="691.9" width="176.40" height="20.10" fill="none" stroke="#333" stroke-width="1.1"/>
<text x="204.6" y="683.5" font-size="12.2" text-anchor="start" font-weight="normal" fill="#262626"  textLength="27.7" lengthAdjust="spacing">p-Akt</text>
<text x="194.8" y="711.2" font-size="12.2" text-anchor="start" font-weight="normal" fill="#262626"  textLength="47.4" lengthAdjust="spacing">α-Tubulin</text>
<clipPath id="c7"><rect x="11.3" y="733.6" width="176.40" height="18.90"/></clipPath>
<rect x="11.3" y="733.6" width="176.40" height="18.90" fill="#eeeeee"/>
<g clip-path="url(#c7)"><g filter="url(#b1)">
<rect x="47.25" y="742.80" width="10.50" height="2.40" rx="1.20" fill="#000" fill-opacity="0.12"/>
<rect x="63.33" y="742.46" width="11.34" height="2.88" rx="1.44" fill="#000" fill-opacity="0.92"/>
<rect x="77.17" y="740.88" width="13.65" height="5.04" rx="1.60" fill="#000" fill-opacity="1.0"/>
<rect x="79.80" y="745.70" width="8.40" height="3.60" rx="1.60" fill="#000" fill-opacity="0.12"/>
<rect x="121.33" y="742.20" width="11.34" height="2.40" rx="1.20" fill="#000" fill-opacity="0.16"/>
<rect x="139.01" y="741.72" width="11.97" height="3.36" rx="1.60" fill="#000" fill-opacity="0.93"/>
<rect x="154.38" y="741.40" width="13.65" height="3.60" rx="1.60" fill="#000" fill-opacity="0.96"/>
<rect x="169.84" y="739.80" width="15.12" height="4.80" rx="1.60" fill="#000" fill-opacity="1.0"/>
</g></g>
<rect x="11.3" y="733.6" width="176.40" height="18.90" fill="none" stroke="#333" stroke-width="1.1"/>
<clipPath id="c8"><rect x="11.3" y="758.7" width="176.40" height="20.50"/></clipPath>
<rect x="11.3" y="758.7" width="176.40" height="20.50" fill="#f1f1f1"/>
<g clip-path="url(#c8)"><g filter="url(#b1)">
<rect x="15.72" y="766.15" width="11.55" height="2.30" rx="1.15" fill="#000" fill-opacity="0.2"/>
<rect x="15.46" y="771.42" width="12.08" height="2.76" rx="1.38" fill="#000" fill-opacity="0.3"/>
<rect x="32.25" y="766.35" width="10.50" height="2.30" rx="1.15" fill="#000" fill-opacity="0.17"/>
<rect x="31.99" y="771.94" width="11.03" height="2.53" rx="1.26" fill="#000" fill-opacity="0.3"/>
<rect x="47.75" y="766.35" width="10.50" height="2.30" rx="1.15" fill="#000" fill-opacity="0.17"/>
<rect x="47.23" y="771.94" width="11.55" height="2.53" rx="1.26" fill="#000" fill-opacity="0.32"/>
<rect x="62.96" y="766.45" width="12.08" height="2.30" rx="1.15" fill="#000" fill-opacity="0.78"/>
<rect x="62.59" y="771.59" width="12.81" height="3.22" rx="1.60" fill="#000" fill-opacity="0.97"/>
<rect x="77.67" y="765.71" width="13.65" height="2.99" rx="1.49" fill="#000" fill-opacity="0.97"/>
<rect x="77.36" y="771.36" width="14.28" height="3.68" rx="1.60" fill="#000" fill-opacity="1.0"/>
<rect x="107.05" y="765.05" width="10.50" height="2.30" rx="1.15" fill="#000" fill-opacity="0.15"/>
<rect x="107.05" y="770.13" width="10.50" height="2.53" rx="1.26" fill="#000" fill-opacity="0.27"/>
<rect x="122.45" y="764.85" width="10.50" height="2.30" rx="1.15" fill="#000" fill-opacity="0.27"/>
<rect x="122.24" y="769.94" width="10.92" height="2.53" rx="1.26" fill="#000" fill-opacity="0.45"/>
<rect x="139.01" y="764.65" width="11.97" height="2.30" rx="1.15" fill="#000" fill-opacity="0.82"/>
<rect x="138.81" y="769.71" width="12.39" height="2.99" rx="1.49" fill="#000" fill-opacity="0.95"/>
<rect x="154.58" y="764.02" width="13.23" height="2.76" rx="1.38" fill="#000" fill-opacity="0.92"/>
<rect x="154.38" y="769.19" width="13.65" height="3.22" rx="1.60" fill="#000" fill-opacity="0.97"/>
<rect x="170.38" y="762.71" width="13.65" height="2.99" rx="1.49" fill="#000" fill-opacity="0.96"/>
<rect x="170.16" y="768.07" width="14.07" height="3.45" rx="1.60" fill="#000" fill-opacity="1.0"/>
</g></g>
<rect x="11.3" y="758.7" width="176.40" height="20.50" fill="none" stroke="#333" stroke-width="1.1"/>
<clipPath id="c9"><rect x="11.3" y="783.5" width="176.40" height="21.40"/></clipPath>
<rect x="11.3" y="783.5" width="176.40" height="21.40" fill="#f1f1f1"/>
<g clip-path="url(#c9)"><g filter="url(#b1)">
<rect x="14.16" y="791.99" width="14.18" height="4.83" rx="1.60" fill="#000" fill-opacity="1.0"/>
<rect x="30.77" y="793.25" width="13.97" height="3.91" rx="1.60" fill="#000" fill-opacity="0.97"/>
<rect x="46.67" y="793.76" width="13.65" height="3.68" rx="1.60" fill="#000" fill-opacity="0.97"/>
<rect x="61.67" y="793.88" width="13.65" height="3.45" rx="1.60" fill="#000" fill-opacity="0.97"/>
<rect x="76.49" y="793.56" width="15.02" height="3.68" rx="1.60" fill="#000" fill-opacity="0.97"/>
<rect x="107.34" y="793.16" width="12.92" height="3.68" rx="1.60" fill="#000" fill-opacity="0.97"/>
<rect x="122.69" y="792.96" width="13.02" height="3.68" rx="1.60" fill="#000" fill-opacity="0.97"/>
<rect x="138.14" y="792.88" width="12.92" height="3.45" rx="1.60" fill="#000" fill-opacity="0.97"/>
<rect x="154.50" y="792.79" width="12.81" height="3.22" rx="1.60" fill="#000" fill-opacity="0.97"/>
<rect x="168.68" y="791.56" width="15.44" height="3.68" rx="1.60" fill="#000" fill-opacity="0.97"/>
</g></g>
<rect x="11.3" y="783.5" width="176.40" height="21.40" fill="none" stroke="#333" stroke-width="1.1"/>
<text x="196.9" y="748.2" font-size="12.2" text-anchor="start" font-weight="normal" fill="#262626"  textLength="44.0" lengthAdjust="spacing">p-STAT5</text>
<text x="196.9" y="768" font-size="12.2" text-anchor="start" font-weight="normal" fill="#262626"  textLength="44.6" lengthAdjust="spacing">p-Erk1/2</text>
<text x="194.8" y="794.4" font-size="12.2" text-anchor="start" font-weight="normal" fill="#262626"  textLength="47.4" lengthAdjust="spacing">α-Tubulin</text>
<text x="256.2" y="605" font-size="17.6" font-weight="bold" fill="#000" stroke="#000" stroke-width="0.35">E<tspan font-size="14.5" letter-spacing="-0.3">ii</tspan></text>
<text x="297.8" y="621.6" font-size="11.6" text-anchor="middle" font-weight="normal" fill="#262626" >EV</text>
<path d="M264.6 630.5 H331.4" stroke="#111" stroke-width="1.9"/>
<text x="388.45" y="621.6" font-size="12.2" text-anchor="middle" font-weight="normal" fill="#262626"  textLength="66.1" lengthAdjust="spacing">CD123-high</text>
<path d="M353.2 630.5 H423" stroke="#111" stroke-width="1.9"/>
<text transform="translate(269.3 659.4) rotate(-90) scale(1.05 1)" font-size="11.6" text-anchor="start" font-weight="normal" fill="#262626" >0</text>
<text transform="translate(285.6 659.4) rotate(-90) scale(1.05 1)" font-size="11.6" text-anchor="start" font-weight="normal" fill="#262626" >0.01</text>
<text transform="translate(301.1 659.4) rotate(-90) scale(1.05 1)" font-size="11.6" text-anchor="start" font-weight="normal" fill="#262626" >0.1</text>
<text transform="translate(316.4 659.4) rotate(-90) scale(1.05 1)" font-size="11.6" text-anchor="start" font-weight="normal" fill="#262626" >1</text>
<text transform="translate(332.7 659.4) rotate(-90) scale(1.05 1)" font-size="11.6" text-anchor="start" font-weight="normal" fill="#262626" >10</text>
<text transform="translate(359.5 659.4) rotate(-90) scale(1.05 1)" font-size="11.6" text-anchor="start" font-weight="normal" fill="#262626" >0</text>
<text transform="translate(375.8 659.4) rotate(-90) scale(1.05 1)" font-size="11.6" text-anchor="start" font-weight="normal" fill="#262626" >0.01</text>
<text transform="translate(391.1 659.4) rotate(-90) scale(1.05 1)" font-size="11.6" text-anchor="start" font-weight="normal" fill="#262626" >0.1</text>
<text transform="translate(407.1 659.4) rotate(-90) scale(1.05 1)" font-size="11.6" text-anchor="start" font-weight="normal" fill="#262626" >1</text>
<text transform="translate(423.1 659.4) rotate(-90) scale(1.05 1)" font-size="11.6" text-anchor="start" font-weight="normal" fill="#262626" >10</text>
<text x="454.3" y="642.8" font-size="12.2" text-anchor="middle" font-weight="normal" fill="#262626"  textLength="50.2" lengthAdjust="spacing">GM-CSF</text>
<text x="454.3" y="656.6" font-size="12.2" text-anchor="middle" font-weight="normal" fill="#262626" >(ng/mL)</text>
<clipPath id="c10"><rect x="256.2" y="669.4" width="175.20" height="19.20"/></clipPath>
<rect x="256.2" y="669.4" width="175.20" height="19.20" fill="#dadada"/>
<g clip-path="url(#c10)"><rect x="256" y="685" width="2.6" height="2" fill="#222"/><g filter="url(#b2)">
<rect x="272.45" y="678.18" width="10.50" height="2.64" rx="1.32" fill="#000" fill-opacity="0.12"/>
<rect x="290.52" y="676.96" width="15.75" height="2.88" rx="1.44" fill="#000" fill-opacity="0.55"/>
<rect x="305.66" y="677.00" width="16.28" height="3.60" rx="1.60" fill="#000" fill-opacity="0.93"/>
<rect x="320.23" y="678.12" width="15.54" height="3.36" rx="1.60" fill="#000" fill-opacity="0.86"/>
<rect x="379.65" y="679.80" width="14.49" height="2.40" rx="1.20" fill="#000" fill-opacity="0.45"/>
<rect x="395.06" y="679.20" width="14.49" height="2.40" rx="1.20" fill="#000" fill-opacity="0.5"/>
<rect x="410.42" y="677.76" width="16.17" height="2.88" rx="1.44" fill="#000" fill-opacity="0.72"/>
</g></g>
<rect x="256.2" y="669.4" width="175.20" height="19.20" fill="none" stroke="#333" stroke-width="1.1"/>
<clipPath id="c11"><rect x="256.2" y="692" width="175.20" height="20.70"/></clipPath>
<rect x="256.2" y="692" width="175.20" height="20.70" fill="#f1f1f1"/>
<g clip-path="url(#c11)"><g filter="url(#b2)">
<rect x="258.12" y="700.32" width="16.17" height="3.36" rx="1.60" fill="#000" fill-opacity="0.93"/>
<rect x="273.72" y="701.12" width="16.17" height="3.36" rx="1.60" fill="#000" fill-opacity="0.93"/>
<rect x="288.92" y="701.64" width="16.17" height="3.12" rx="1.56" fill="#000" fill-opacity="0.93"/>
<rect x="304.22" y="701.84" width="16.17" height="3.12" rx="1.56" fill="#000" fill-opacity="0.93"/>
<rect x="319.84" y="702.04" width="15.12" height="3.12" rx="1.56" fill="#000" fill-opacity="0.93"/>
<rect x="345.84" y="702.24" width="17.32" height="3.12" rx="1.56" fill="#000" fill-opacity="0.93"/>
<rect x="362.60" y="702.04" width="16.80" height="3.12" rx="1.56" fill="#000" fill-opacity="0.93"/>
<rect x="378.60" y="702.24" width="16.80" height="3.12" rx="1.56" fill="#000" fill-opacity="0.93"/>
<rect x="394.60" y="701.72" width="16.80" height="3.36" rx="1.60" fill="#000" fill-opacity="0.95"/>
<rect x="411.36" y="701.72" width="16.28" height="3.36" rx="1.60" fill="#000" fill-opacity="0.95"/>
</g></g>
<rect x="256.2" y="692" width="175.20" height="20.70" fill="none" stroke="#333" stroke-width="1.1"/>
<clipPath id="c12"><rect x="256.2" y="733.6" width="175.20" height="20.80"/></clipPath>
<rect x="256.2" y="733.6" width="175.20" height="20.80" fill="#ededed"/>
<g clip-path="url(#c12)"><g filter="url(#b1)">
<rect x="274.04" y="740.10" width="17.12" height="5.00" rx="1.60" fill="#000" fill-opacity="0.98"/>
<rect x="289.94" y="741.02" width="17.12" height="4.75" rx="1.60" fill="#000" fill-opacity="0.98"/>
<rect x="305.24" y="741.83" width="17.12" height="4.75" rx="1.60" fill="#000" fill-opacity="0.98"/>
<rect x="321.04" y="742.50" width="17.12" height="5.00" rx="1.60" fill="#000" fill-opacity="1.0"/>
<rect x="292.20" y="746.12" width="12.60" height="3.75" rx="1.60" fill="#000" fill-opacity="0.12"/>
<rect x="307.50" y="747.12" width="12.60" height="3.75" rx="1.60" fill="#000" fill-opacity="0.12"/>
<rect x="323.30" y="748.12" width="12.60" height="3.75" rx="1.60" fill="#000" fill-opacity="0.12"/>
<rect x="365.65" y="743.67" width="14.91" height="4.25" rx="1.60" fill="#000" fill-opacity="0.97"/>
<rect x="381.01" y="743.35" width="16.38" height="4.50" rx="1.60" fill="#000" fill-opacity="0.98"/>
<rect x="397.73" y="743.48" width="15.33" height="4.25" rx="1.60" fill="#000" fill-opacity="0.98"/>
<rect x="412.57" y="742.23" width="16.07" height="4.75" rx="1.60" fill="#000" fill-opacity="1.0"/>
<rect x="383.43" y="748.58" width="11.55" height="3.25" rx="1.60" fill="#000" fill-opacity="0.12"/>
<rect x="399.62" y="748.58" width="11.55" height="3.25" rx="1.60" fill="#000" fill-opacity="0.1"/>
</g></g>
<rect x="256.2" y="733.6" width="175.20" height="20.80" fill="none" stroke="#333" stroke-width="1.1"/>
<clipPath id="c13"><rect x="256.2" y="759.6" width="175.20" height="20.60"/></clipPath>
<rect x="256.2" y="759.6" width="175.20" height="20.60" fill="#f1f1f1"/>
<g clip-path="url(#c13)"><g filter="url(#b1)">
<rect x="258.76" y="766.76" width="12.29" height="2.07" rx="1.03" fill="#000" fill-opacity="0.22"/>
<rect x="274.73" y="764.42" width="15.75" height="2.76" rx="1.38" fill="#000" fill-opacity="0.93"/>
<rect x="274.73" y="768.99" width="15.75" height="3.22" rx="1.60" fill="#000" fill-opacity="0.97"/>
<rect x="290.62" y="765.62" width="15.75" height="2.76" rx="1.38" fill="#000" fill-opacity="0.93"/>
<rect x="290.62" y="770.59" width="15.75" height="3.22" rx="1.60" fill="#000" fill-opacity="0.97"/>
<rect x="305.93" y="767.22" width="15.75" height="2.76" rx="1.38" fill="#000" fill-opacity="0.93"/>
<rect x="305.93" y="772.27" width="15.75" height="3.45" rx="1.60" fill="#000" fill-opacity="1.0"/>
<rect x="321.73" y="768.62" width="15.75" height="2.76" rx="1.38" fill="#000" fill-opacity="0.93"/>
<rect x="321.73" y="773.99" width="15.75" height="3.22" rx="1.60" fill="#000" fill-opacity="0.97"/>
<rect x="350.53" y="774.05" width="11.34" height="2.30" rx="1.15" fill="#000" fill-opacity="0.28"/>
<rect x="351.47" y="770.20" width="9.45" height="1.61" rx="0.80" fill="#000" fill-opacity="0.08"/>
<rect x="366.44" y="770.03" width="12.92" height="2.53" rx="1.26" fill="#000" fill-opacity="0.9"/>
<rect x="366.28" y="774.30" width="13.23" height="2.99" rx="1.49" fill="#000" fill-opacity="0.97"/>
<rect x="381.84" y="770.03" width="12.92" height="2.53" rx="1.26" fill="#000" fill-opacity="0.9"/>
<rect x="381.69" y="774.30" width="13.23" height="2.99" rx="1.49" fill="#000" fill-opacity="0.97"/>
<rect x="397.20" y="770.03" width="12.39" height="2.53" rx="1.26" fill="#000" fill-opacity="0.9"/>
<rect x="396.94" y="774.30" width="12.92" height="2.99" rx="1.49" fill="#000" fill-opacity="0.97"/>
<rect x="413.54" y="769.34" width="12.92" height="2.53" rx="1.26" fill="#000" fill-opacity="0.9"/>
<rect x="413.38" y="773.71" width="13.23" height="2.99" rx="1.49" fill="#000" fill-opacity="0.97"/>
</g></g>
<rect x="256.2" y="759.6" width="175.20" height="20.60" fill="none" stroke="#333" stroke-width="1.1"/>
<clipPath id="c14"><rect x="256.2" y="785.2" width="175.20" height="19.40"/></clipPath>
<rect x="256.2" y="785.2" width="175.20" height="19.40" fill="#f1f1f1"/>
<g clip-path="url(#c14)"><g filter="url(#b1)">
<rect x="259.12" y="791.98" width="15.75" height="2.85" rx="1.42" fill="#000" fill-opacity="0.97"/>
<rect x="273.99" y="792.78" width="17.22" height="2.85" rx="1.42" fill="#000" fill-opacity="0.97"/>
<rect x="289.89" y="793.78" width="17.22" height="2.85" rx="1.42" fill="#000" fill-opacity="0.97"/>
<rect x="305.19" y="794.78" width="17.22" height="2.85" rx="1.42" fill="#000" fill-opacity="0.97"/>
<rect x="320.99" y="795.48" width="17.22" height="3.04" rx="1.52" fill="#000" fill-opacity="0.98"/>
<rect x="348.60" y="795.38" width="16.80" height="2.85" rx="1.42" fill="#000" fill-opacity="0.97"/>
<rect x="364.39" y="795.38" width="17.22" height="2.85" rx="1.42" fill="#000" fill-opacity="0.97"/>
<rect x="380.39" y="795.58" width="17.22" height="2.85" rx="1.42" fill="#000" fill-opacity="0.97"/>
<rect x="396.39" y="795.18" width="17.22" height="2.85" rx="1.42" fill="#000" fill-opacity="0.97"/>
<rect x="412.52" y="793.48" width="16.17" height="3.04" rx="1.52" fill="#000" fill-opacity="0.98"/>
</g></g>
<rect x="256.2" y="785.2" width="175.20" height="19.40" fill="none" stroke="#333" stroke-width="1.1"/>
</svg></body></html>
